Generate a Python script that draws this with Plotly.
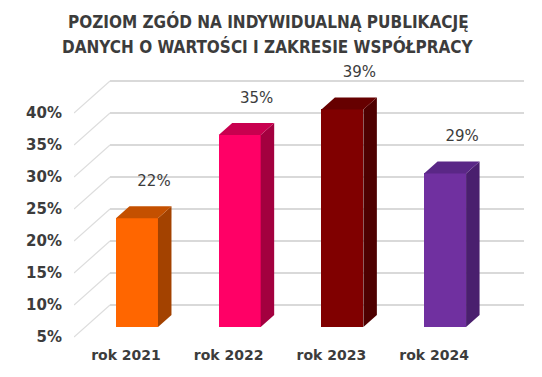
import plotly.graph_objects as go

# ---- data ----
categories = ["rok 2021", "rok 2022", "rok 2023", "rok 2024"]
values = [22, 35, 39, 29]
tick_values = [5, 10, 15, 20, 25, 30, 35, 40]
value_labels = ["22%", "35%", "39%", "29%"]
title_lines = ["POZIOM ZGÓD NA INDYWIDUALNĄ PUBLIKACJĘ",
               "DANYCH O WARTOŚCI I ZAKRESIE WSPÓŁPRACY"]

front_colors = ["#FF6600", "#FF0066", "#800000", "#7030A0"]
top_colors = ["#C45000", "#C8004F", "#660000", "#5A2786"]
side_colors = ["#A34200", "#A3003F", "#4E0000", "#4A1F6E"]

# ---- geometry (styles) ----
W, H = 542, 377
ML, MR, MT, MB = 74, 12, 60, 32
PX_PER_Y = 6.4          # pixels per percentage point
Y0 = 3.75               # axis minimum
plot_h = H - MT - MB
Y1 = Y0 + plot_h / PX_PER_Y
X0 = -0.506
plot_w = W - ML - MR
PX_PER_X = 102.7
X1 = X0 + plot_w / PX_PER_X

def px_x(p):
    return p / PX_PER_X

def px_y(p):
    return p / PX_PER_Y

BASE = 5
back_dx, back_dy = px_x(36), px_y(32)
plane_dx, plane_dy = px_x(11), px_y(10)
bar_dx, bar_dy = px_x(13.5), px_y(12)
bar_w = px_x(42)
grid_end = X0 + px_x(524 - ML)

TITLE_FONT = "DejaVu Sans Condensed, DejaVu Sans"
TEXT_COLOR = "#3C3C3C"

fig = go.Figure()

shapes = []
for t in tick_values:
    shapes.append(dict(type="line", xref="x", yref="y", layer="below",
                       x0=X0, y0=t, x1=X0 + back_dx, y1=t + back_dy,
                       line=dict(color="#DDDDDD", width=1.2)))
    shapes.append(dict(type="line", xref="x", yref="y", layer="below",
                       x0=X0 + back_dx, y0=t + back_dy, x1=grid_end, y1=t + back_dy,
                       line=dict(color="#D9D9D9", width=2)))

xs = [i + plane_dx for i in range(len(categories))]
fig.add_trace(go.Bar(
    x=xs, y=[v - BASE for v in values], base=[BASE + plane_dy] * len(values),
    width=bar_w, marker=dict(color=front_colors, line=dict(width=0)),
    hoverinfo="skip", showlegend=False))

for i, v in enumerate(values):
    xl = xs[i] - bar_w / 2
    xr = xs[i] + bar_w / 2
    b = BASE + plane_dy
    t = v + plane_dy
    fig.add_trace(go.Scatter(
        x=[xr, xr + bar_dx, xr + bar_dx, xr, xr],
        y=[b, b + bar_dy, t + bar_dy, t, b],
        fill="toself", fillcolor=side_colors[i], mode="lines",
        line=dict(width=0, color=side_colors[i]), hoverinfo="skip", showlegend=False))
    fig.add_trace(go.Scatter(
        x=[xl, xl + bar_dx, xr + bar_dx, xr, xl],
        y=[t, t + bar_dy, t + bar_dy, t, t],
        fill="toself", fillcolor=top_colors[i], mode="lines",
        line=dict(width=0, color=top_colors[i]), hoverinfo="skip", showlegend=False))

fig.add_trace(go.Scatter(
    x=[i + px_x(28) for i in range(len(categories))],
    y=[v + px_y(46) for v in values],
    text=value_labels, mode="text",
    textfont=dict(family="DejaVu Sans", size=15, color=TEXT_COLOR),
    hoverinfo="skip", showlegend=False))

title_x = (268 - ML) / plot_w
for line, py in zip(title_lines, [21, 46]):
    fig.add_annotation(text="<b>" + line + "</b>", xref="paper", yref="paper",
                       x=title_x, y=(H - MB - py) / plot_h, xanchor="center",
                       yanchor="middle", showarrow=False,
                       font=dict(family=TITLE_FONT, size=17, color=TEXT_COLOR))

fig.update_layout(
    width=W, height=H,
    margin=dict(l=ML, r=MR, t=MT, b=MB, autoexpand=False),
    paper_bgcolor="white", plot_bgcolor="white",
    shapes=shapes,
    xaxis=dict(range=[X0, X1], tickmode="array",
               tickvals=list(range(len(categories))),
               ticktext=[f"<b>{c}</b>" for c in categories],
               showgrid=False, zeroline=False, showline=False, ticks="",
               automargin=False,
               tickfont=dict(family="DejaVu Sans", size=14, color=TEXT_COLOR)),
    yaxis=dict(range=[Y0, Y1], tickmode="array", tickvals=tick_values,
               ticktext=[f"<b>{t}%</b>" for t in tick_values],
               showgrid=False, zeroline=False, showline=False, ticks="",
               ticklabelstandoff=11, automargin=False,
               tickfont=dict(family="DejaVu Sans", size=15, color=TEXT_COLOR)),
    bargap=0,
)

fig.write_html("out.html", config={"displayModeBar": False},
               post_script="document.body.style.margin='0px';")
